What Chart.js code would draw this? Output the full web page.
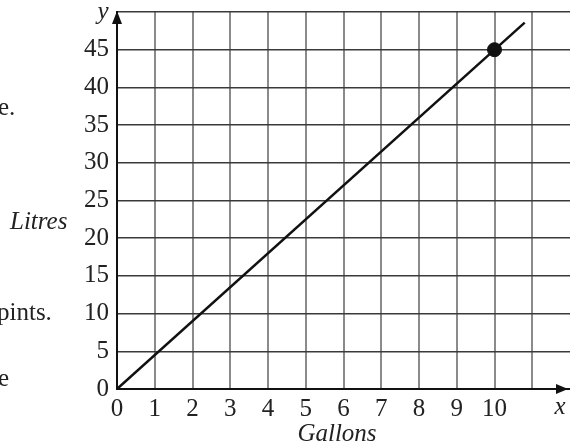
<!DOCTYPE html>
<html>
<head>
<meta charset="utf-8">
<script src="https://cdn.jsdelivr.net/npm/chart.js@4/dist/chart.umd.min.js"></script>
<style>
  html, body { margin: 0; padding: 0; background: #fff; }
  #wrap { width: 570px; height: 446px; }
</style>
</head>
<body>
<div id="wrap"><canvas id="myGraph" width="570" height="446"></canvas></div>
<script>
// conversion line gallons -> litres, and the marked point
var gallons = [0, 10.8];
var litres = [0, 48.6];
var markGallons = [10];
var markLitres = [45];
var xTickLabels = [0, 1, 2, 3, 4, 5, 6, 7, 8, 9, 10];
var yTickLabels = [0, 5, 10, 15, 20, 25, 30, 35, 40, 45];

var serif = "'Liberation Serif', 'Times New Roman', serif";

// no extra label padding, the chart area is placed by hand
function noPad(scale) {
  scale.paddingTop = 0;
  scale.paddingBottom = 0;
  scale.paddingLeft = 0;
  scale.paddingRight = 0;
}

// arrows, axis names and the bits of page text on the left
var extras = {
  id: "extras",
  afterDraw: function (chart) {
    var c = chart.ctx;
    var a = chart.chartArea;
    c.save();
    c.fillStyle = "#111";
    // y arrow
    c.beginPath();
    c.moveTo(a.left, a.top - 1);
    c.lineTo(a.left - 5, a.top + 12);
    c.lineTo(a.left + 5, a.top + 12);
    c.closePath();
    c.fill();
    // x arrow
    c.beginPath();
    c.moveTo(a.right - 2, a.bottom);
    c.lineTo(a.right - 14, a.bottom - 5);
    c.lineTo(a.right - 14, a.bottom + 5);
    c.closePath();
    c.fill();

    c.fillStyle = "#222";
    c.textBaseline = "middle";
    c.font = "italic 25px " + serif;
    c.textAlign = "center";
    c.fillText("y", 103, 12);
    c.fillText("x", 560, 407);
    c.fillText("Gallons", 337, 434);
    c.textAlign = "left";
    c.fillText("Litres", 10, 222);

    c.font = "25px " + serif;
    c.fillText("e.", -2, 108);
    c.fillText("pints.", -3, 313);
    c.fillText("e", -2, 379);
    c.restore();
  }
};

var ctx = document.getElementById("myGraph").getContext("2d");

var myGraph = new Chart(ctx, {
  type: "scatter",
  data: {
    datasets: [
      {
        type: "line",
        data: gallons.map(function (g, i) { return { x: g, y: litres[i] }; }),
        borderColor: "#111",
        borderWidth: 2.5,
        pointRadius: 0,
        fill: false
      },
      {
        data: markGallons.map(function (g, i) { return { x: g, y: markLitres[i] }; }),
        backgroundColor: "#111",
        borderColor: "#111",
        pointRadius: 7
      }
    ]
  },
  options: {
    responsive: false,
    animation: false,
    layout: { autoPadding: false, padding: { top: 12, right: 0, left: 0, bottom: 0 } },
    plugins: {
      legend: { display: false },
      tooltip: { enabled: false }
    },
    scales: {
      x: {
        type: "linear",
        min: 0,
        max: 12,
        afterBuildTicks: function (scale) {
          scale.ticks = [];
          for (var i = 0; i <= 11; i++) scale.ticks.push({ value: i });
        },
        afterFit: function (scale) { scale.height = 57; noPad(scale); },
        ticks: {
          padding: 5,
          color: "#222",
          font: { family: serif, size: 25 },
          callback: function (v) { return xTickLabels.indexOf(v) >= 0 ? String(v) : ""; }
        },
        grid: { color: "#8a8a8a", lineWidth: 2, drawTicks: false },
        border: { color: "#111", width: 2 }
      },
      y: {
        min: 0,
        max: 50,
        afterBuildTicks: function (scale) {
          scale.ticks = [];
          for (var v = 0; v <= 50; v += 5) scale.ticks.push({ value: v });
        },
        afterFit: function (scale) { scale.width = 117; noPad(scale); },
        ticks: {
          padding: 8,
          color: "#222",
          font: { family: serif, size: 25 },
          callback: function (v) { return yTickLabels.indexOf(v) >= 0 ? String(v) : ""; }
        },
        grid: { color: "#3a3a3a", lineWidth: 1.5, drawTicks: false },
        border: { color: "#111", width: 2 }
      }
    }
  },
  plugins: [extras]
});
</script>
</body>
</html>
